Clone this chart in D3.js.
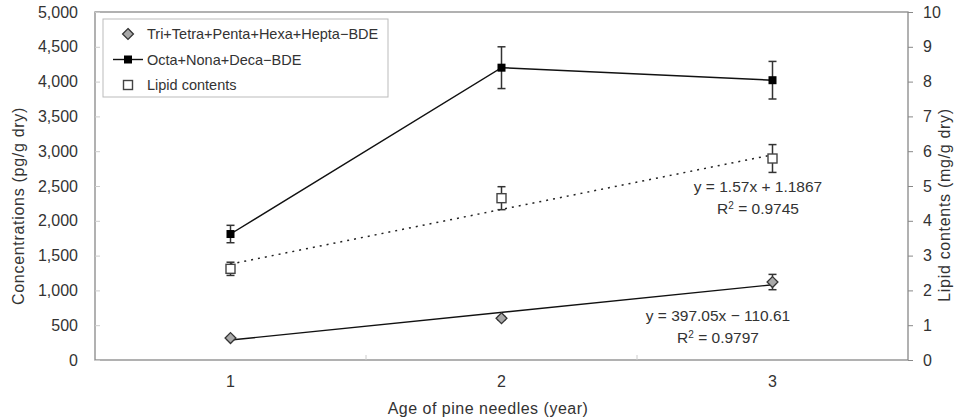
<!DOCTYPE html>
<html>
<head>
<meta charset="utf-8">
<script src="https://cdn.jsdelivr.net/npm/d3@7"></script>
<style>
  body { margin: 0; background: #fff; }
  text { font-family: "Liberation Sans", Arial, sans-serif; fill: #333; }
</style>
</head>
<body>
<div id="chart"></div>
<script>
// podaci ocitani sa slike
var ages = [1, 2, 3];
var triValues = [315, 600, 1120];
var triErr = [20, 25, 110];
var octaValues = [1810, 4200, 4020];
var octaErr = [125, 300, 270];
var lipidValues = [2.62, 4.65, 5.79];
var lipidErr = [0.19, 0.33, 0.40];
var leftTicks = [0, 500, 1000, 1500, 2000, 2500, 3000, 3500, 4000, 4500, 5000];
var rightTicks = [0, 1, 2, 3, 4, 5, 6, 7, 8, 9, 10];
var lipidFit = [1.57, 1.1867];
var triFit = [397.05, -110.61];
var legendLabels = ["Tri+Tetra+Penta+Hexa+Hepta\u2212BDE", "Octa+Nona+Deca\u2212BDE", "Lipid contents"];

var W = 959, H = 420;
var margin = { top: 12, right: 51, bottom: 60, left: 95 };
var width = W - margin.left - margin.right;
var height = H - margin.top - margin.bottom;

var svg = d3.select("#chart").append("svg")
    .attr("width", W)
    .attr("height", H);

var g = svg.append("g")
    .attr("transform", "translate(" + margin.left + "," + margin.top + ")");

var x = d3.scaleBand().domain(ages).range([0, width]);
var cx = function (a) { return x(a) + x.bandwidth() / 2; };
var y = d3.scaleLinear().domain([0, 5000]).range([height, 0]);
var y2 = d3.scaleLinear().domain([0, 10]).range([height, 0]);

// okvir
g.append("rect")
    .attr("width", width).attr("height", height)
    .attr("fill", "none").attr("stroke", "#888").attr("stroke-width", 1.3);

// lijeva os
var yAxis = g.append("g")
    .call(d3.axisLeft(y).tickValues(leftTicks).tickFormat(d3.format(",")).tickSize(-5).tickPadding(17));
yAxis.select(".domain").remove();
yAxis.selectAll("line").attr("stroke", "#ccc");
yAxis.selectAll("text").style("font-size", "16px").attr("fill", "#333");

// desna os
var y2Axis = g.append("g")
    .attr("transform", "translate(" + width + ",0)")
    .call(d3.axisRight(y2).tickValues(rightTicks).tickSize(5).tickPadding(10));
y2Axis.select(".domain").remove();
y2Axis.selectAll("line").attr("stroke", "#888");
y2Axis.selectAll("text").style("font-size", "16px").attr("fill", "#333");

// x os
var xAxis = g.append("g")
    .attr("transform", "translate(0," + height + ")")
    .call(d3.axisBottom(x).tickSize(0).tickPadding(16));
xAxis.select(".domain").remove();
xAxis.selectAll("text").style("font-size", "16px").attr("fill", "#333");
g.selectAll(".xgrid")
    .data(ages.slice(1))
    .enter().append("line")
    .attr("x1", function (d) { return x(d); })
    .attr("x2", function (d) { return x(d); })
    .attr("y1", height).attr("y2", height - 5)
    .attr("stroke", "#ccc");

// naslovi osi
svg.append("text")
    .attr("transform", "translate(18,206) rotate(-90)")
    .attr("text-anchor", "middle").attr("dy", "0.35em")
    .style("font-size", "16px").style("letter-spacing", "0.7px")
    .text("Concentrations (pg/g dry)");
svg.append("text")
    .attr("transform", "translate(944,205) rotate(-90)")
    .attr("text-anchor", "middle").attr("dy", "0.35em")
    .style("font-size", "16px").style("letter-spacing", "0.7px")
    .text("Lipid contents (mg/g dry)");
svg.append("text")
    .attr("x", 488).attr("y", 408)
    .attr("text-anchor", "middle").attr("dy", "0.35em")
    .style("font-size", "16px").style("letter-spacing", "0.5px")
    .text("Age of pine needles (year)");

// trend linije
g.append("line")
    .attr("x1", cx(1)).attr("x2", cx(3))
    .attr("y1", y2(lipidFit[0] * 1 + lipidFit[1]))
    .attr("y2", y2(lipidFit[0] * 3 + lipidFit[1]))
    .attr("stroke", "#222").attr("stroke-width", 1.5)
    .attr("stroke-dasharray", "2,5");
g.append("line")
    .attr("x1", cx(1)).attr("x2", cx(3))
    .attr("y1", y(triFit[0] * 1 + triFit[1]))
    .attr("y2", y(triFit[0] * 3 + triFit[1]))
    .attr("stroke", "#111").attr("stroke-width", 1.4);

// linija Octa serije
var line = d3.line()
    .x(function (d, i) { return cx(ages[i]); })
    .y(function (d) { return y(d); });
g.append("path")
    .datum(octaValues)
    .attr("d", line)
    .attr("fill", "none").attr("stroke", "#111").attr("stroke-width", 1.4);

// error barovi
function errorBars(values, errs, scale) {
    var eb = g.append("g").selectAll("g")
        .data(values).enter().append("g")
        .attr("stroke", "#333").attr("stroke-width", 1.5);
    eb.append("line")
        .attr("x1", function (d, i) { return cx(ages[i]); })
        .attr("x2", function (d, i) { return cx(ages[i]); })
        .attr("y1", function (d, i) { return scale(d - errs[i]); })
        .attr("y2", function (d, i) { return scale(d + errs[i]); });
    [-1, 1].forEach(function (s) {
        eb.append("line")
            .attr("x1", function (d, i) { return cx(ages[i]) - 4; })
            .attr("x2", function (d, i) { return cx(ages[i]) + 4; })
            .attr("y1", function (d, i) { return scale(d + s * errs[i]); })
            .attr("y2", function (d, i) { return scale(d + s * errs[i]); });
    });
}
errorBars(triValues, triErr, y);
errorBars(octaValues, octaErr, y);
errorBars(lipidValues, lipidErr, y2);

// markeri
var diamond = d3.symbol().type(d3.symbolDiamond2).size(75);
g.selectAll(".tri")
    .data(triValues).enter().append("path")
    .attr("class", "tri")
    .attr("d", diamond)
    .attr("transform", function (d, i) { return "translate(" + cx(ages[i]) + "," + y(d) + ")"; })
    .attr("fill", "#a8a8a8").attr("stroke", "#333").attr("stroke-width", 1.3);

g.selectAll(".octa")
    .data(octaValues).enter().append("rect")
    .attr("class", "octa")
    .attr("x", function (d, i) { return cx(ages[i]) - 4; })
    .attr("y", function (d) { return y(d) - 4; })
    .attr("width", 8).attr("height", 8)
    .attr("fill", "#000");

g.selectAll(".lipid")
    .data(lipidValues).enter().append("rect")
    .attr("class", "lipid")
    .attr("x", function (d, i) { return cx(ages[i]) - 4.5; })
    .attr("y", function (d) { return y2(d) - 4.5; })
    .attr("width", 9).attr("height", 9)
    .attr("fill", "#fff").attr("stroke", "#444").attr("stroke-width", 1.4);

// jednadzbe
function equation(xp, yp, eq, r2) {
    svg.append("text")
        .attr("x", xp).attr("y", yp)
        .attr("text-anchor", "middle").attr("dy", "0.35em")
        .style("font-size", "15.5px")
        .text(eq);
    var t = svg.append("text")
        .attr("x", xp).attr("y", yp + 22)
        .attr("text-anchor", "middle").attr("dy", "0.35em")
        .style("font-size", "15.5px");
    t.append("tspan").text("R");
    t.append("tspan").attr("baseline-shift", "super").style("font-size", "10px").text("2");
    t.append("tspan").text(" = " + r2);
}
equation(758, 187, "y = " + lipidFit[0] + "x + " + lipidFit[1], "0.9745");
equation(718, 316, "y = " + triFit[0] + "x \u2212 " + Math.abs(triFit[1]), "0.9797");

// legenda
var legend = svg.append("g");
legend.append("rect")
    .attr("x", 103).attr("y", 19).attr("width", 285).attr("height", 78)
    .attr("fill", "#fff").attr("stroke", "#bbb");
var rows = legend.selectAll(".row")
    .data(legendLabels).enter().append("g")
    .attr("transform", function (d, i) { return "translate(128," + (34 + i * 25.5) + ")"; });
rows.append("text")
    .attr("x", 19).attr("dy", "0.35em")
    .style("font-size", "14.5px")
    .text(function (d) { return d; });
legend.append("path")
    .attr("d", diamond)
    .attr("transform", "translate(128,34)")
    .attr("fill", "#a8a8a8").attr("stroke", "#333").attr("stroke-width", 1.3);
legend.append("line")
    .attr("x1", 113).attr("x2", 143).attr("y1", 59.5).attr("y2", 59.5)
    .attr("stroke", "#111").attr("stroke-width", 1.4);
legend.append("rect")
    .attr("x", 124).attr("y", 55.5).attr("width", 8).attr("height", 8).attr("fill", "#000");
legend.append("rect")
    .attr("x", 123.5).attr("y", 80.5).attr("width", 9).attr("height", 9)
    .attr("fill", "#fff").attr("stroke", "#444").attr("stroke-width", 1.4);
</script>
</body>
</html>
